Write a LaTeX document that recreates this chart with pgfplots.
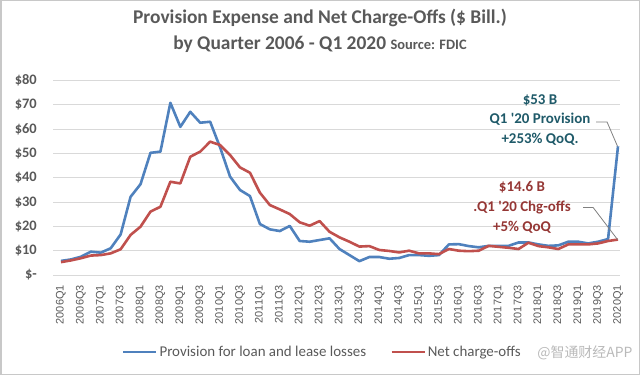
\documentclass[border=0pt]{standalone}
\usepackage{pgfplots}
\pgfplotsset{compat=1.18}
\usepackage{pgfplotstable}
\usepackage{fontspec}
\setmainfont{Carlito}
\newfontfamily\arialf{Liberation Sans}
\newfontfamily\cjk{Noto Sans CJK SC}
\definecolor{provblue}{RGB}{79,129,189}
\definecolor{ncored}{RGB}{192,80,77}
\definecolor{tealtxt}{RGB}{31,90,105}
\definecolor{redtxt}{RGB}{149,55,53}
\definecolor{txtgray}{RGB}{89,89,89}
\definecolor{gridgray}{RGB}{217,217,217}
\pgfplotstableread{
i prov nco
0 5.8 5.3
1 6.4 6.0
2 7.5 6.9
3 9.6 8.0
4 9.2 8.2
5 11.0 8.9
6 16.7 10.6
7 32.2 16.5
8 37.4 19.9
9 50.3 26.1
10 50.8 28.1
11 70.9 38.4
12 61.0 37.7
13 67.2 48.7
14 62.7 50.8
15 63.1 54.9
16 52.5 53.5
17 40.5 49.4
18 35.0 44.3
19 32.5 42.1
20 21.0 33.9
21 18.8 28.8
22 18.1 27.0
23 20.2 25.1
24 14.0 21.7
25 13.7 20.3
26 14.4 22.2
27 15.1 17.8
28 10.7 15.5
29 8.2 13.7
30 5.7 11.7
31 7.4 11.9
32 7.4 10.3
33 6.7 9.9
34 7.0 9.3
35 8.2 10.0
36 8.2 8.9
37 7.9 8.9
38 8.2 8.6
39 12.6 10.7
40 12.7 10.0
41 11.9 9.8
42 11.4 10.0
43 12.0 12.0
44 12.0 11.6
45 12.0 11.2
46 13.4 10.7
47 13.4 13.3
48 12.6 11.9
49 12.0 11.4
50 12.2 10.7
51 13.7 12.6
52 13.7 12.6
53 13.0 12.6
54 13.7 13.0
55 14.8 14.0
56 53.0 14.6
}\datatable
\begin{document}
\begin{tikzpicture}
\useasboundingbox (0,0) rectangle (640bp,375bp);
\draw[draw={rgb,255:red,200;green,200;blue,200}, line width=1.5bp] (0.75bp,0.75bp) rectangle (639.25bp,374.25bp);
\node[text=txtgray, font=\fontsize{19.5}{22}\selectfont\bfseries] at (320bp,357bp) {Provision Expense and Net Charge-Offs (\$ Bill.)};
\node[text=txtgray, anchor=base] at (320bp,325bp) {\fontsize{19.5}{22}\selectfont\bfseries by Quarter 2006 - Q1 2020 {\fontsize{14.5}{16}\selectfont Source: FDIC}};
\begin{axis}[
  at={(53bp,100bp)}, anchor=south west,
  scale only axis, width=567bp, height=194.3bp,
  xmin=-0.8, xmax=56.2, ymin=0, ymax=80,
  axis line style={draw=none},
  ymajorgrids, major grid style={gridgray, line width=1bp},
  major tick length=0pt,
  xtick={0,2,...,56},
  xticklabels={\mbox{2006Q1},\mbox{2006Q3},\mbox{2007Q1},\mbox{2007Q3},\mbox{2008Q1},\mbox{2008Q3},\mbox{2009Q1},\mbox{2009Q3},\mbox{2010Q1},\mbox{2010Q3},\mbox{2011Q1},\mbox{2011Q3},\mbox{2012Q1},\mbox{2012Q3},\mbox{2013Q1},\mbox{2013Q3},\mbox{2014Q1},\mbox{2014Q3},\mbox{2015Q1},\mbox{2015Q3},\mbox{2016Q1},\mbox{2016Q3},\mbox{2017Q1},\mbox{2017Q3},\mbox{2018Q1},\mbox{2018Q3},\mbox{2019Q1},\mbox{2019Q3},\mbox{2020Q1}},
  xticklabel style={rotate=90, anchor=east, font=\arialf\fontsize{11}{12}\selectfont, text=txtgray, inner sep=0pt},
  xticklabel shift=10bp,
  ytick={0,10,...,80},
  yticklabels={\mbox{\$-},\mbox{\$10},\mbox{\$20},\mbox{\$30},\mbox{\$40},\mbox{\$50},\mbox{\$60},\mbox{\$70},\mbox{\$80}},
  yticklabel style={font=\fontsize{14.5}{16}\selectfont\bfseries, text=txtgray, inner sep=0pt},
  yticklabel shift=16bp,
  legend columns=2,
  legend style={at={(0.475,-0.396)}, anchor=center, draw=none, fill=none,
    font=\fontsize{15}{17}\selectfont, text=txtgray,
    /tikz/every even column/.append style={column sep=22bp}},
  legend image code/.code={\draw[#1, line width=2.6bp] (0bp,0bp) -- (33bp,0bp);},
  clip=false,
]
\addplot[provblue, line width=2.6bp, line join=round] table[x=i, y=prov] {\datatable};
\addlegendentry{Provision for loan and lease losses}
\addplot[ncored, line width=2.6bp, line join=round] table[x=i, y=nco] {\datatable};
\addlegendentry{Net charge-offs}
\draw[gray, line width=0.8bp] (axis cs:53.8,63.0) -- (axis cs:54.9,63.0) -- (axis cs:55.95,53);
\draw[gray, line width=0.8bp] (axis cs:52.5,27.8) -- (axis cs:53.5,27.8) -- (axis cs:55.95,14.6);
\end{axis}
\node[text=tealtxt, font=\fontsize{15}{17}\selectfont\bfseries, align=center] at (540bp,255bp) {\$53 B\\[3bp]Q1 \textquotesingle20 Provision\\[3bp]+253\% QoQ.};
\node[text=redtxt, font=\fontsize{15}{17}\selectfont\bfseries, align=center] at (522bp,168bp) {\$14.6 B\\[3bp].Q1 \textquotesingle20 Chg-offs\\[3bp]+5\% QoQ};
\node[text=gray!55, font=\cjk\fontsize{14}{16}\selectfont, anchor=east] at (636bp,22bp) {@智通财经APP};
\end{tikzpicture}
\end{document}
